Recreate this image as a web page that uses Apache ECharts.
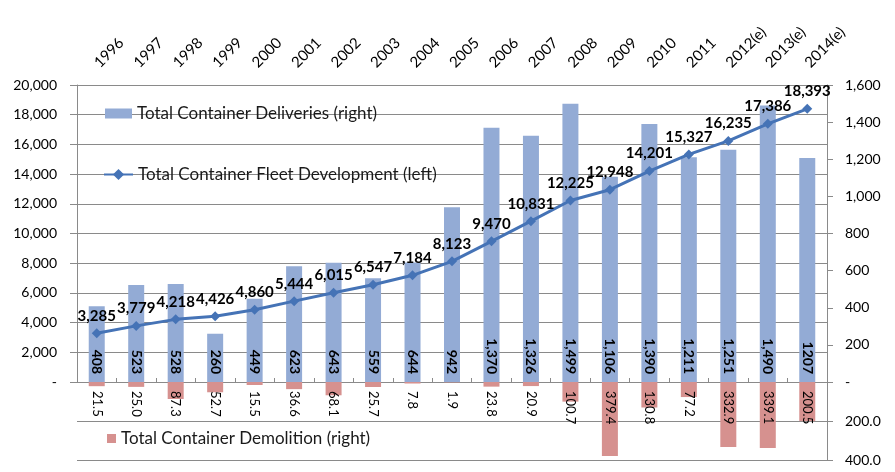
<!DOCTYPE html>
<html>
<head>
<meta charset="utf-8">
<script src="https://cdn.jsdelivr.net/npm/echarts@6/dist/echarts.min.js"></script>
<style>
html,body{margin:0;padding:0;background:#fff;}
#chart{width:895px;height:472px;}
</style>
</head>
<body>
<div id="chart"></div>
<script>
var years = ['1996','1997','1998','1999','2000','2001','2002','2003','2004','2005','2006','2007','2008','2009','2010','2011','2012(e)','2013(e)','2014(e)'];
var deliveries = [408,523,528,260,449,623,643,559,644,942,1370,1326,1499,1106,1390,1211,1251,1490,1207];
var fleet = [3285,3779,4218,4426,4860,5444,6015,6547,7184,8123,9470,10831,12225,12948,14201,15327,16235,17386,18393];
var demolition = [21.5,25.0,87.3,52.7,15.5,36.6,68.1,25.7,7.8,1.9,23.8,20.9,100.7,379.4,130.8,77.2,332.9,339.1,200.5];
var leftTicks = {min:0, max:20000, interval:2000};
var rightTicks = {min:0, max:1600, interval:200};
var demoTicks = {min:0, max:400, interval:200};

var FONT = 'Lato';
var GRID = '#8a8a8a';
function fmt(v){ return v.toString().replace(/\B(?=(\d{3})+(?!\d))/g, ','); }

var chart = echarts.init(document.getElementById('chart'), null, {renderer:'canvas'});
var option = {
  animation:false,
  textStyle:{fontFamily:FONT},
  grid:[
    {left:77, right:68, top:85, height:297, containLabel:false},
    {left:77, right:68, top:382, height:78, containLabel:false}
  ],
  legend:[
    {data:['Total Container Deliveries (right)'], left:105, top:105, padding:0, itemWidth:27, itemHeight:10, itemGap:2,
     textStyle:{fontFamily:FONT, fontSize:17, color:'#1a1a1a'}, icon:'rect'},
    {data:['Total Container Fleet Development (left)'], left:103, top:166, padding:0, itemWidth:29, itemHeight:14,
     textStyle:{fontFamily:FONT, fontSize:17, color:'#1a1a1a'}},
    {data:['Total Container Demolition (right)'], left:107, top:430, padding:0, itemWidth:9, itemHeight:9, itemGap:2,
     textStyle:{fontFamily:FONT, fontSize:17, color:'#1a1a1a'}, icon:'rect'}
  ],
  xAxis:[
    {type:'category', gridIndex:0, data:years, position:'top',
     axisLine:{show:true, lineStyle:{color:GRID}},
     axisTick:{show:true, length:4, lineStyle:{color:GRID}},
     axisLabel:{rotate:45, fontSize:15, color:'#000', margin:20, fontFamily:FONT, interval:0},
     splitLine:{show:false}},
    {type:'category', gridIndex:1, data:years, position:'top',
     axisLine:{show:true, lineStyle:{color:GRID}},
     axisTick:{show:false}, axisLabel:{show:false}, splitLine:{show:false}}
  ],
  yAxis:[
    {type:'value', gridIndex:0, position:'left', min:leftTicks.min, max:leftTicks.max, interval:leftTicks.interval,
     axisLine:{show:true, lineStyle:{color:GRID}},
     axisTick:{show:true, length:7, lineStyle:{color:GRID}},
     axisLabel:{fontSize:14, color:'#000', margin:20, fontFamily:FONT,
       formatter:function(v){ return v===0 ? '-' : fmt(v); }},
     splitLine:{show:true, lineStyle:{color:GRID, width:1}}},
    {type:'value', gridIndex:0, position:'right', min:rightTicks.min, max:rightTicks.max, interval:rightTicks.interval,
     axisLine:{show:true, lineStyle:{color:GRID}},
     axisTick:{show:true, length:6, lineStyle:{color:GRID}},
     axisLabel:{fontSize:14, color:'#000', margin:18, fontFamily:FONT, align:'left',
       formatter:function(v){ return v===0 ? '-' : fmt(v); }},
     splitLine:{show:false}},
    {type:'value', gridIndex:1, position:'right', inverse:true, min:demoTicks.min, max:demoTicks.max, interval:demoTicks.interval,
     axisLine:{show:true, lineStyle:{color:GRID}},
     axisTick:{show:true, length:6, lineStyle:{color:GRID}},
     axisLabel:{fontSize:14, color:'#000', margin:18, fontFamily:FONT, align:'left',
       formatter:function(v){ return v===0 ? '' : v.toFixed(1); }},
     splitLine:{show:true, lineStyle:{color:GRID, width:1}}}
  ],
  series:[
    {name:'Total Container Deliveries (right)', type:'bar', xAxisIndex:0, yAxisIndex:1, data:deliveries,
     barWidth:16, itemStyle:{color:'#93abd5'},
     label:{show:true, position:'insideBottom', rotate:-90, align:'right', verticalAlign:'middle', distance:8,
       fontSize:14, fontWeight:'bold', color:'#000', fontFamily:FONT,
       formatter:function(p){ return p.dataIndex===deliveries.length-1 ? String(p.value) : fmt(p.value); }}},
    {name:'Total Container Demolition (right)', type:'bar', xAxisIndex:1, yAxisIndex:2, data:demolition,
     barWidth:16, itemStyle:{color:'#d6918f'},
     label:{show:true, position:'insideTop', rotate:-90, align:'left', verticalAlign:'middle', distance:9,
       fontSize:13, color:'#000', fontFamily:FONT,
       formatter:function(p){ return p.value.toFixed(1); }}},
    {name:'Total Container Fleet Development (left)', type:'line', xAxisIndex:0, yAxisIndex:0, data:fleet,
     z:5, symbol:'diamond', symbolSize:10, showAllSymbol:true,
     lineStyle:{color:'#4573b6', width:3}, itemStyle:{color:'#4573b6'},
     label:{show:true, position:'top', distance:5, fontSize:15, fontWeight:'bold', color:'#000', fontFamily:FONT,
       formatter:function(p){ return fmt(p.value); }}}
  ]
};
chart.setOption(option);
</script>
</body>
</html>
